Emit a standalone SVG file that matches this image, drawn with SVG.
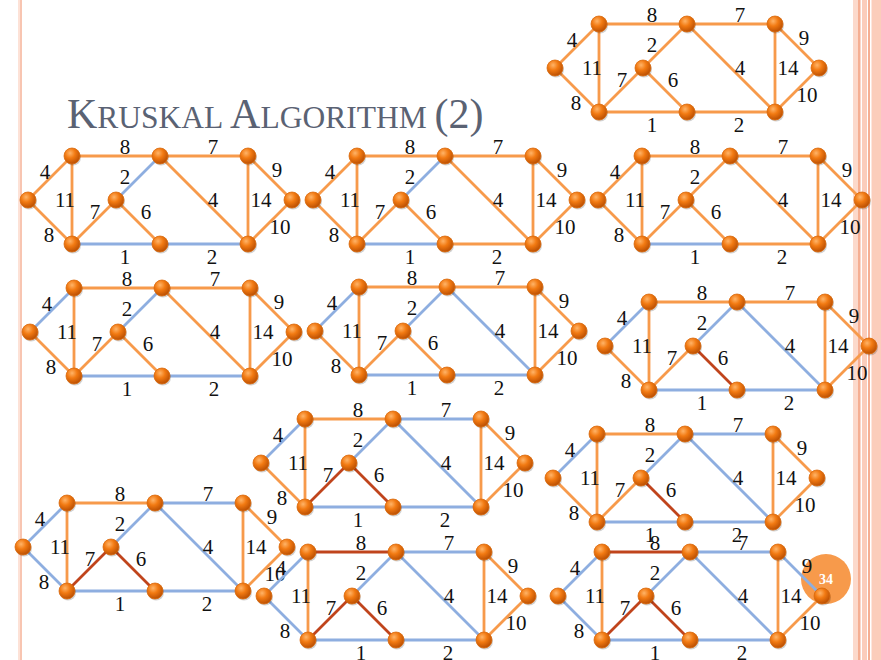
<svg xmlns="http://www.w3.org/2000/svg" xmlns:xlink="http://www.w3.org/1999/xlink" width="881" height="660" viewBox="0 0 881 660">
<style>
.e line{stroke-width:2.8;stroke-linecap:round}
.o{stroke:#F79A4B}
.b{stroke:#8EAEE0}
.r{stroke:#C0441C}
.lbl text{font-family:"Liberation Serif","DejaVu Serif",serif;font-size:21px;fill:#111;text-anchor:middle}
.title{font-family:"Liberation Serif","DejaVu Serif",serif;fill:#5A6273}
</style>
<defs>
<radialGradient id="ng" cx="0.38" cy="0.32" r="0.7">
<stop offset="0" stop-color="#FFB468"/>
<stop offset="0.45" stop-color="#F27A12"/>
<stop offset="1" stop-color="#B94E02"/>
</radialGradient>
<g id="nd">
<circle cx="1" cy="1.5" r="8" fill="#000" opacity="0.18"/>
<circle r="8" fill="url(#ng)" stroke="#D9690C" stroke-width="0.8"/>
</g>
<g id="labels" class="lbl">
<text x="97" y="-46">8</text>
<text x="185" y="-46">7</text>
<text x="17" y="-21">4</text>
<text x="249" y="-23">9</text>
<text x="37" y="7">11</text>
<text x="97" y="-16">2</text>
<text x="67" y="19">7</text>
<text x="118" y="19">6</text>
<text x="185" y="7">4</text>
<text x="233" y="7">14</text>
<text x="21" y="42">8</text>
<text x="252" y="34">10</text>
<text x="97" y="64">1</text>
<text x="184" y="64">2</text>
</g>
</defs>
<rect width="881" height="660" fill="#fff"/>
<g id="frame">
<rect x="18" y="0" width="2" height="660" fill="#FDE2D7"/>
<rect x="20" y="0" width="2" height="660" fill="#F8C5B1"/>
<rect x="853" y="0" width="5" height="660" fill="#FCD9CB"/>
<rect x="858" y="0" width="2.5" height="660" fill="#F5AE92"/>
<rect x="862" y="0" width="5" height="660" fill="#FBCDBB"/>
<rect x="868" y="0" width="2" height="660" fill="#F5AE92"/>
<rect x="871.5" y="0" width="9.5" height="660" fill="#FBCDBB"/>
</g>
<text class="title" x="67" y="128"><tspan font-size="42">K</tspan><tspan font-size="31.5">RUSKAL </tspan><tspan font-size="42">A</tspan><tspan font-size="31.5">LGORITHM </tspan><tspan font-size="42">(2)</tspan></text>
<g id="badge">
<circle cx="826" cy="579" r="25" fill="#F79A4B"/>
<text x="826" y="584" font-family="Liberation Serif,serif" font-size="14" font-weight="bold" fill="#fff" text-anchor="middle">34</text>
</g>

<g id="graph1" transform="translate(555,68)">
<g class="e">
<line class="o" x1="0" y1="0" x2="44" y2="-44"/><line class="o" x1="0" y1="0" x2="44" y2="44"/><line class="o" x1="44" y1="-44" x2="132" y2="-44"/><line class="o" x1="44" y1="-44" x2="44" y2="44"/><line class="o" x1="132" y1="-44" x2="220" y2="-44"/><line class="o" x1="132" y1="-44" x2="88" y2="0"/><line class="o" x1="132" y1="-44" x2="220" y2="44"/><line class="o" x1="220" y1="-44" x2="264" y2="0"/><line class="o" x1="220" y1="-44" x2="220" y2="44"/><line class="o" x1="264" y1="0" x2="220" y2="44"/><line class="o" x1="44" y1="44" x2="88" y2="0"/><line class="o" x1="88" y1="0" x2="132" y2="44"/><line class="o" x1="44" y1="44" x2="132" y2="44"/><line class="o" x1="132" y1="44" x2="220" y2="44"/>
</g>
<use href="#labels"/>
<g class="nodes"><use id="g1a" href="#nd" x="0" y="0"/><use id="g1b" href="#nd" x="44" y="-44"/><use id="g1c" href="#nd" x="132" y="-44"/><use id="g1d" href="#nd" x="220" y="-44"/><use id="g1e" href="#nd" x="264" y="0"/><use id="g1h" href="#nd" x="44" y="44"/><use id="g1g" href="#nd" x="132" y="44"/><use id="g1f" href="#nd" x="220" y="44"/><use id="g1i" href="#nd" x="88" y="0"/></g>
</g>

<g id="graph2" transform="translate(28,200)">
<g class="e">
<line class="o" x1="0" y1="0" x2="44" y2="-44"/><line class="o" x1="0" y1="0" x2="44" y2="44"/><line class="o" x1="44" y1="-44" x2="132" y2="-44"/><line class="o" x1="44" y1="-44" x2="44" y2="44"/><line class="o" x1="132" y1="-44" x2="220" y2="-44"/><line class="b" x1="132" y1="-44" x2="88" y2="0"/><line class="o" x1="132" y1="-44" x2="220" y2="44"/><line class="o" x1="220" y1="-44" x2="264" y2="0"/><line class="o" x1="220" y1="-44" x2="220" y2="44"/><line class="o" x1="264" y1="0" x2="220" y2="44"/><line class="o" x1="44" y1="44" x2="88" y2="0"/><line class="o" x1="88" y1="0" x2="132" y2="44"/><line class="b" x1="44" y1="44" x2="132" y2="44"/><line class="b" x1="132" y1="44" x2="220" y2="44"/>
</g>
<use href="#labels"/>
<g class="nodes"><use id="g2a" href="#nd" x="0" y="0"/><use id="g2b" href="#nd" x="44" y="-44"/><use id="g2c" href="#nd" x="132" y="-44"/><use id="g2d" href="#nd" x="220" y="-44"/><use id="g2e" href="#nd" x="264" y="0"/><use id="g2h" href="#nd" x="44" y="44"/><use id="g2g" href="#nd" x="132" y="44"/><use id="g2f" href="#nd" x="220" y="44"/><use id="g2i" href="#nd" x="88" y="0"/></g>
</g>

<g id="graph3" transform="translate(313,200)">
<g class="e">
<line class="o" x1="0" y1="0" x2="44" y2="-44"/><line class="o" x1="0" y1="0" x2="44" y2="44"/><line class="o" x1="44" y1="-44" x2="132" y2="-44"/><line class="o" x1="44" y1="-44" x2="44" y2="44"/><line class="o" x1="132" y1="-44" x2="220" y2="-44"/><line class="b" x1="132" y1="-44" x2="88" y2="0"/><line class="o" x1="132" y1="-44" x2="220" y2="44"/><line class="o" x1="220" y1="-44" x2="264" y2="0"/><line class="o" x1="220" y1="-44" x2="220" y2="44"/><line class="o" x1="264" y1="0" x2="220" y2="44"/><line class="o" x1="44" y1="44" x2="88" y2="0"/><line class="o" x1="88" y1="0" x2="132" y2="44"/><line class="b" x1="44" y1="44" x2="132" y2="44"/><line class="o" x1="132" y1="44" x2="220" y2="44"/>
</g>
<use href="#labels"/>
<g class="nodes"><use id="g3a" href="#nd" x="0" y="0"/><use id="g3b" href="#nd" x="44" y="-44"/><use id="g3c" href="#nd" x="132" y="-44"/><use id="g3d" href="#nd" x="220" y="-44"/><use id="g3e" href="#nd" x="264" y="0"/><use id="g3h" href="#nd" x="44" y="44"/><use id="g3g" href="#nd" x="132" y="44"/><use id="g3f" href="#nd" x="220" y="44"/><use id="g3i" href="#nd" x="88" y="0"/></g>
</g>

<g id="graph4" transform="translate(598,200)">
<g class="e">
<line class="o" x1="0" y1="0" x2="44" y2="-44"/><line class="o" x1="0" y1="0" x2="44" y2="44"/><line class="o" x1="44" y1="-44" x2="132" y2="-44"/><line class="o" x1="44" y1="-44" x2="44" y2="44"/><line class="o" x1="132" y1="-44" x2="220" y2="-44"/><line class="o" x1="132" y1="-44" x2="88" y2="0"/><line class="o" x1="132" y1="-44" x2="220" y2="44"/><line class="o" x1="220" y1="-44" x2="264" y2="0"/><line class="o" x1="220" y1="-44" x2="220" y2="44"/><line class="o" x1="264" y1="0" x2="220" y2="44"/><line class="o" x1="44" y1="44" x2="88" y2="0"/><line class="o" x1="88" y1="0" x2="132" y2="44"/><line class="b" x1="44" y1="44" x2="132" y2="44"/><line class="o" x1="132" y1="44" x2="220" y2="44"/>
</g>
<use href="#labels"/>
<g class="nodes"><use id="g4a" href="#nd" x="0" y="0"/><use id="g4b" href="#nd" x="44" y="-44"/><use id="g4c" href="#nd" x="132" y="-44"/><use id="g4d" href="#nd" x="220" y="-44"/><use id="g4e" href="#nd" x="264" y="0"/><use id="g4h" href="#nd" x="44" y="44"/><use id="g4g" href="#nd" x="132" y="44"/><use id="g4f" href="#nd" x="220" y="44"/><use id="g4i" href="#nd" x="88" y="0"/></g>
</g>

<g id="graph5" transform="translate(30,332)">
<g class="e">
<line class="b" x1="0" y1="0" x2="44" y2="-44"/><line class="o" x1="0" y1="0" x2="44" y2="44"/><line class="o" x1="44" y1="-44" x2="132" y2="-44"/><line class="o" x1="44" y1="-44" x2="44" y2="44"/><line class="o" x1="132" y1="-44" x2="220" y2="-44"/><line class="b" x1="132" y1="-44" x2="88" y2="0"/><line class="o" x1="132" y1="-44" x2="220" y2="44"/><line class="o" x1="220" y1="-44" x2="264" y2="0"/><line class="o" x1="220" y1="-44" x2="220" y2="44"/><line class="o" x1="264" y1="0" x2="220" y2="44"/><line class="o" x1="44" y1="44" x2="88" y2="0"/><line class="o" x1="88" y1="0" x2="132" y2="44"/><line class="b" x1="44" y1="44" x2="132" y2="44"/><line class="b" x1="132" y1="44" x2="220" y2="44"/>
</g>
<use href="#labels"/>
<g class="nodes"><use id="g5a" href="#nd" x="0" y="0"/><use id="g5b" href="#nd" x="44" y="-44"/><use id="g5c" href="#nd" x="132" y="-44"/><use id="g5d" href="#nd" x="220" y="-44"/><use id="g5e" href="#nd" x="264" y="0"/><use id="g5h" href="#nd" x="44" y="44"/><use id="g5g" href="#nd" x="132" y="44"/><use id="g5f" href="#nd" x="220" y="44"/><use id="g5i" href="#nd" x="88" y="0"/></g>
</g>

<g id="graph6" transform="translate(315,331)">
<g class="e">
<line class="b" x1="0" y1="0" x2="44" y2="-44"/><line class="o" x1="0" y1="0" x2="44" y2="44"/><line class="o" x1="44" y1="-44" x2="132" y2="-44"/><line class="o" x1="44" y1="-44" x2="44" y2="44"/><line class="o" x1="132" y1="-44" x2="220" y2="-44"/><line class="b" x1="132" y1="-44" x2="88" y2="0"/><line class="b" x1="132" y1="-44" x2="220" y2="44"/><line class="o" x1="220" y1="-44" x2="264" y2="0"/><line class="o" x1="220" y1="-44" x2="220" y2="44"/><line class="o" x1="264" y1="0" x2="220" y2="44"/><line class="o" x1="44" y1="44" x2="88" y2="0"/><line class="o" x1="88" y1="0" x2="132" y2="44"/><line class="b" x1="44" y1="44" x2="132" y2="44"/><line class="b" x1="132" y1="44" x2="220" y2="44"/>
</g>
<use href="#labels"/>
<g class="nodes"><use id="g6a" href="#nd" x="0" y="0"/><use id="g6b" href="#nd" x="44" y="-44"/><use id="g6c" href="#nd" x="132" y="-44"/><use id="g6d" href="#nd" x="220" y="-44"/><use id="g6e" href="#nd" x="264" y="0"/><use id="g6h" href="#nd" x="44" y="44"/><use id="g6g" href="#nd" x="132" y="44"/><use id="g6f" href="#nd" x="220" y="44"/><use id="g6i" href="#nd" x="88" y="0"/></g>
</g>

<g id="graph7" transform="translate(605,346)">
<g class="e">
<line class="b" x1="0" y1="0" x2="44" y2="-44"/><line class="o" x1="0" y1="0" x2="44" y2="44"/><line class="o" x1="44" y1="-44" x2="132" y2="-44"/><line class="o" x1="44" y1="-44" x2="44" y2="44"/><line class="o" x1="132" y1="-44" x2="220" y2="-44"/><line class="b" x1="132" y1="-44" x2="88" y2="0"/><line class="b" x1="132" y1="-44" x2="220" y2="44"/><line class="o" x1="220" y1="-44" x2="264" y2="0"/><line class="o" x1="220" y1="-44" x2="220" y2="44"/><line class="o" x1="264" y1="0" x2="220" y2="44"/><line class="o" x1="44" y1="44" x2="88" y2="0"/><line class="r" x1="88" y1="0" x2="132" y2="44"/><line class="b" x1="44" y1="44" x2="132" y2="44"/><line class="b" x1="132" y1="44" x2="220" y2="44"/>
</g>
<use href="#labels"/>
<g class="nodes"><use id="g7a" href="#nd" x="0" y="0"/><use id="g7b" href="#nd" x="44" y="-44"/><use id="g7c" href="#nd" x="132" y="-44"/><use id="g7d" href="#nd" x="220" y="-44"/><use id="g7e" href="#nd" x="264" y="0"/><use id="g7h" href="#nd" x="44" y="44"/><use id="g7g" href="#nd" x="132" y="44"/><use id="g7f" href="#nd" x="220" y="44"/><use id="g7i" href="#nd" x="88" y="0"/></g>
</g>

<g id="graph8" transform="translate(261,463)">
<g class="e">
<line class="b" x1="0" y1="0" x2="44" y2="-44"/><line class="o" x1="0" y1="0" x2="44" y2="44"/><line class="o" x1="44" y1="-44" x2="132" y2="-44"/><line class="o" x1="44" y1="-44" x2="44" y2="44"/><line class="b" x1="132" y1="-44" x2="220" y2="-44"/><line class="b" x1="132" y1="-44" x2="88" y2="0"/><line class="b" x1="132" y1="-44" x2="220" y2="44"/><line class="o" x1="220" y1="-44" x2="264" y2="0"/><line class="o" x1="220" y1="-44" x2="220" y2="44"/><line class="o" x1="264" y1="0" x2="220" y2="44"/><line class="r" x1="44" y1="44" x2="88" y2="0"/><line class="r" x1="88" y1="0" x2="132" y2="44"/><line class="b" x1="44" y1="44" x2="132" y2="44"/><line class="b" x1="132" y1="44" x2="220" y2="44"/>
</g>
<use href="#labels"/>
<g class="nodes"><use id="g8a" href="#nd" x="0" y="0"/><use id="g8b" href="#nd" x="44" y="-44"/><use id="g8c" href="#nd" x="132" y="-44"/><use id="g8d" href="#nd" x="220" y="-44"/><use id="g8e" href="#nd" x="264" y="0"/><use id="g8h" href="#nd" x="44" y="44"/><use id="g8g" href="#nd" x="132" y="44"/><use id="g8f" href="#nd" x="220" y="44"/><use id="g8i" href="#nd" x="88" y="0"/></g>
</g>

<g id="graph9" transform="translate(553,478)">
<g class="e">
<line class="b" x1="0" y1="0" x2="44" y2="-44"/><line class="o" x1="0" y1="0" x2="44" y2="44"/><line class="o" x1="44" y1="-44" x2="132" y2="-44"/><line class="o" x1="44" y1="-44" x2="44" y2="44"/><line class="b" x1="132" y1="-44" x2="220" y2="-44"/><line class="b" x1="132" y1="-44" x2="88" y2="0"/><line class="b" x1="132" y1="-44" x2="220" y2="44"/><line class="o" x1="220" y1="-44" x2="264" y2="0"/><line class="o" x1="220" y1="-44" x2="220" y2="44"/><line class="o" x1="264" y1="0" x2="220" y2="44"/><line class="o" x1="44" y1="44" x2="88" y2="0"/><line class="r" x1="88" y1="0" x2="132" y2="44"/><line class="b" x1="44" y1="44" x2="132" y2="44"/><line class="b" x1="132" y1="44" x2="220" y2="44"/>
</g>
<use href="#labels"/>
<g class="nodes"><use id="g9a" href="#nd" x="0" y="0"/><use id="g9b" href="#nd" x="44" y="-44"/><use id="g9c" href="#nd" x="132" y="-44"/><use id="g9d" href="#nd" x="220" y="-44"/><use id="g9e" href="#nd" x="264" y="0"/><use id="g9h" href="#nd" x="44" y="44"/><use id="g9g" href="#nd" x="132" y="44"/><use id="g9f" href="#nd" x="220" y="44"/><use id="g9i" href="#nd" x="88" y="0"/></g>
</g>

<g id="graph10" transform="translate(23,547)">
<g class="e">
<line class="b" x1="0" y1="0" x2="44" y2="-44"/><line class="b" x1="0" y1="0" x2="44" y2="44"/><line class="o" x1="44" y1="-44" x2="132" y2="-44"/><line class="o" x1="44" y1="-44" x2="44" y2="44"/><line class="b" x1="132" y1="-44" x2="220" y2="-44"/><line class="b" x1="132" y1="-44" x2="88" y2="0"/><line class="b" x1="132" y1="-44" x2="220" y2="44"/><line class="o" x1="220" y1="-44" x2="264" y2="0"/><line class="o" x1="220" y1="-44" x2="220" y2="44"/><line class="o" x1="264" y1="0" x2="220" y2="44"/><line class="r" x1="44" y1="44" x2="88" y2="0"/><line class="r" x1="88" y1="0" x2="132" y2="44"/><line class="b" x1="44" y1="44" x2="132" y2="44"/><line class="b" x1="132" y1="44" x2="220" y2="44"/>
</g>
<use href="#labels"/>
<g class="nodes"><use id="g10a" href="#nd" x="0" y="0"/><use id="g10b" href="#nd" x="44" y="-44"/><use id="g10c" href="#nd" x="132" y="-44"/><use id="g10d" href="#nd" x="220" y="-44"/><use id="g10e" href="#nd" x="264" y="0"/><use id="g10h" href="#nd" x="44" y="44"/><use id="g10g" href="#nd" x="132" y="44"/><use id="g10f" href="#nd" x="220" y="44"/><use id="g10i" href="#nd" x="88" y="0"/></g>
</g>

<g id="graph11" transform="translate(264,596)">
<g class="e">
<line class="b" x1="0" y1="0" x2="44" y2="-44"/><line class="b" x1="0" y1="0" x2="44" y2="44"/><line class="r" x1="44" y1="-44" x2="132" y2="-44"/><line class="o" x1="44" y1="-44" x2="44" y2="44"/><line class="b" x1="132" y1="-44" x2="220" y2="-44"/><line class="b" x1="132" y1="-44" x2="88" y2="0"/><line class="b" x1="132" y1="-44" x2="220" y2="44"/><line class="o" x1="220" y1="-44" x2="264" y2="0"/><line class="o" x1="220" y1="-44" x2="220" y2="44"/><line class="o" x1="264" y1="0" x2="220" y2="44"/><line class="r" x1="44" y1="44" x2="88" y2="0"/><line class="r" x1="88" y1="0" x2="132" y2="44"/><line class="b" x1="44" y1="44" x2="132" y2="44"/><line class="b" x1="132" y1="44" x2="220" y2="44"/>
</g>
<use href="#labels"/>
<g class="nodes"><use id="g11a" href="#nd" x="0" y="0"/><use id="g11b" href="#nd" x="44" y="-44"/><use id="g11c" href="#nd" x="132" y="-44"/><use id="g11d" href="#nd" x="220" y="-44"/><use id="g11e" href="#nd" x="264" y="0"/><use id="g11h" href="#nd" x="44" y="44"/><use id="g11g" href="#nd" x="132" y="44"/><use id="g11f" href="#nd" x="220" y="44"/><use id="g11i" href="#nd" x="88" y="0"/></g>
</g>

<g id="graph12" transform="translate(558,596)">
<g class="e">
<line class="b" x1="0" y1="0" x2="44" y2="-44"/><line class="b" x1="0" y1="0" x2="44" y2="44"/><line class="r" x1="44" y1="-44" x2="132" y2="-44"/><line class="o" x1="44" y1="-44" x2="44" y2="44"/><line class="b" x1="132" y1="-44" x2="220" y2="-44"/><line class="b" x1="132" y1="-44" x2="88" y2="0"/><line class="b" x1="132" y1="-44" x2="220" y2="44"/><line class="b" x1="220" y1="-44" x2="264" y2="0"/><line class="o" x1="220" y1="-44" x2="220" y2="44"/><line class="o" x1="264" y1="0" x2="220" y2="44"/><line class="r" x1="44" y1="44" x2="88" y2="0"/><line class="r" x1="88" y1="0" x2="132" y2="44"/><line class="b" x1="44" y1="44" x2="132" y2="44"/><line class="b" x1="132" y1="44" x2="220" y2="44"/>
</g>
<use href="#labels"/>
<g class="nodes"><use id="g12a" href="#nd" x="0" y="0"/><use id="g12b" href="#nd" x="44" y="-44"/><use id="g12c" href="#nd" x="132" y="-44"/><use id="g12d" href="#nd" x="220" y="-44"/><use id="g12e" href="#nd" x="264" y="0"/><use id="g12h" href="#nd" x="44" y="44"/><use id="g12g" href="#nd" x="132" y="44"/><use id="g12f" href="#nd" x="220" y="44"/><use id="g12i" href="#nd" x="88" y="0"/></g>
</g>
</svg>
